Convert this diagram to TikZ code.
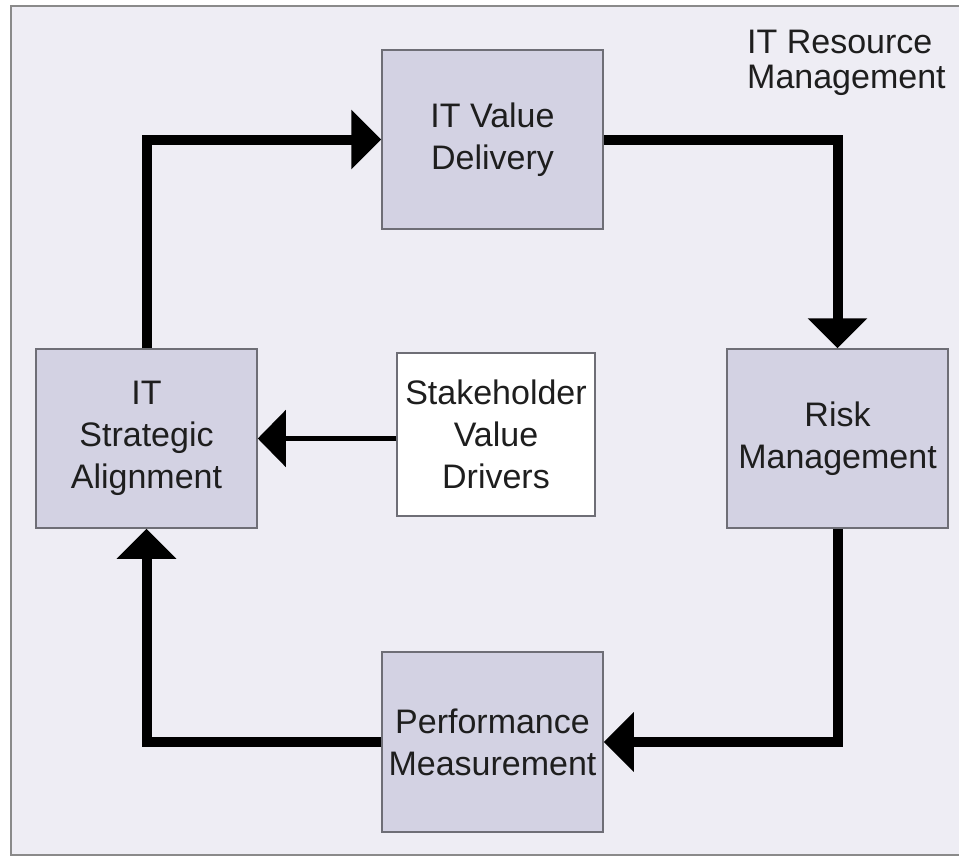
\documentclass[tikz,border=0pt]{standalone}
\usepackage{fontspec}
\setmainfont{Liberation Sans}
\usetikzlibrary{arrows.meta}
\definecolor{bgc}{HTML}{EEEDF4}
\definecolor{boxc}{HTML}{D3D2E3}
\definecolor{edgec}{HTML}{6E6E76}
\definecolor{framec}{HTML}{8A8A8A}
\definecolor{txtc}{HTML}{1E1E1E}
\tikzset{
  proc/.style={draw=edgec, line width=1.5pt, fill=boxc, minimum width=221pt, minimum height=179pt,
    align=center, font=\fontsize{34}{42}\selectfont, text=txtc, inner sep=0pt},
  drvbox/.style={draw=edgec, line width=1.5pt, fill=white, minimum width=198pt, minimum height=163pt,
    align=center, font=\fontsize{34}{42}\selectfont, text=txtc, inner sep=0pt},
  flow/.style={line width=10pt, black, -{Triangle[length=30pt,width=58pt]}},
  thinflow/.style={line width=5pt, black, -{Triangle[length=28pt,width=56pt]}},
  frametxt/.style={font=\fontsize{34}{35}\selectfont, text=txtc, align=left, inner sep=0pt}
}
\begin{document}
\begin{tikzpicture}[x=1pt,y=-1pt]
\useasboundingbox (0,0) rectangle (959,857);
\fill[white] (0,0) rectangle (959,857);
\draw[framec, line width=2pt, fill=bgc] (11,6) rectangle (966,855);
\node[frametxt, anchor=north west] (irm) at (747,30) {IT Resource\\Management};
\node[proc] (vd) at (492.5,139.5) {IT Value\\Delivery};
\node[proc] (rm) at (837.5,438.5) {Risk\\Management};
\node[proc] (sa) at (146.5,438.5) {IT\\Strategic\\Alignment};
\node[proc, minimum height=180pt] (pm) at (492.5,742) {Performance\\Measurement};
\node[drvbox] (sv) at (496,434.5) {Stakeholder\\Value\\Drivers};
\draw[flow] (sa.north) |- (vd.west);
\draw[flow] (vd.east) -| (rm.north);
\draw[flow] (rm.south) |- (pm.east);
\draw[flow] (pm.west) -| (sa.south);
\draw[thinflow] (sv.west |- sa.east) -- (sa.east);
\end{tikzpicture}
\end{document}
